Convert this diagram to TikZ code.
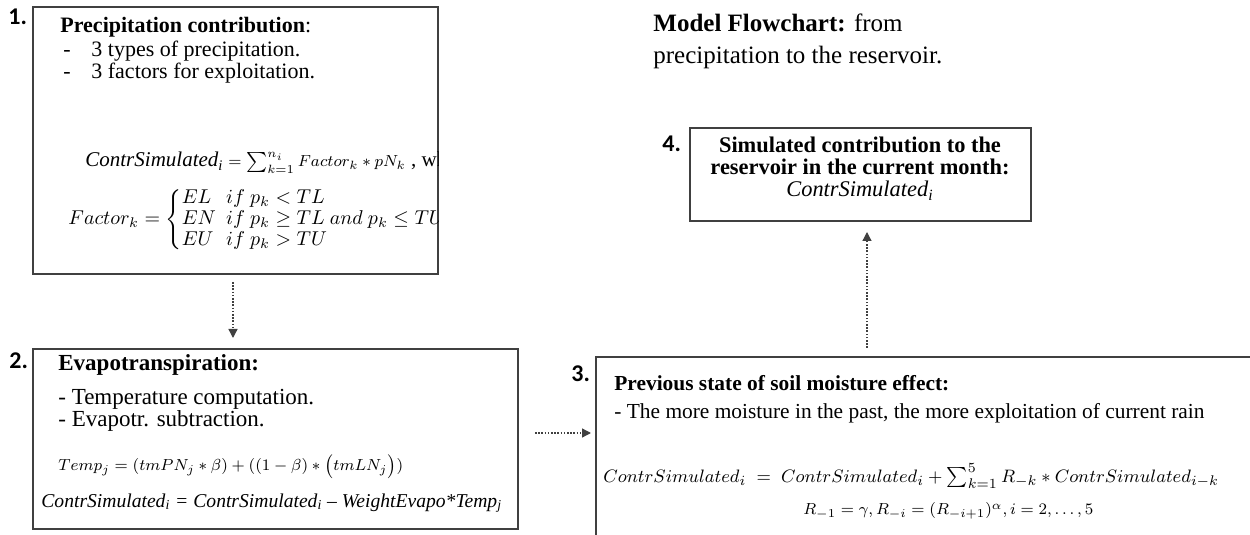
\documentclass[tikz,border=0pt]{standalone}
\usepackage{fontspec}
\setmainfont{Liberation Serif}
\newfontfamily\lblfont{Carlito}
\usetikzlibrary{arrows.meta,fit}
\begin{document}
\begin{tikzpicture}[x=0.5pt,y=-0.5pt,
  box/.style={draw=black!75, line width=0.75pt, inner sep=0pt},
  num/.style={font=\lblfont\bfseries\fontsize{12}{14}\selectfont, anchor=base west, inner sep=0pt},
  txt/.style={anchor=base west, inner sep=0pt, font=\fontsize{11}{13}\selectfont},
  txtb/.style={anchor=base west, inner sep=0pt, font=\fontsize{11.5}{13}\selectfont},
  txtc/.style={anchor=base west, inner sep=0pt, font=\fontsize{10.7}{13}\selectfont},
  ctr/.style={anchor=base, inner sep=0pt, font=\fontsize{11.2}{13}\selectfont},
  title/.style={anchor=base west, inner sep=0pt, font=\fontsize{12.5}{15}\selectfont},
  arr/.style={draw=black!75, line width=0.65pt, dash pattern=on 0.8pt off 0.8pt,
    -{Triangle[length=4.5pt,width=4.5pt]}}]
\useasboundingbox (0,0) rectangle (1250,535);
\clip (0,0) rectangle (1250,535);

% boxes
\node[box, fit={(33,7) (438,274)}] (b1) {};
\node[box, fit={(33,349) (518,529)}] (b2) {};
\node[box, fit={(596,357) (1262,547)}] (b3) {};
\node[box, fit={(690,128) (1031,221)}] (b4) {};

% numbers
\node[num] (n1) at (8,25) {1.};
\node[num] (n2) at (9,369) {2.};
\node[num] (n3) at (571,381) {3.};
\node[num] (n4) at (662,152) {4.};

% title
\node[title] (tt1) at (653,32) {\textbf{Model Flowchart:} from};
\node[title] (tt2) at (653,64) {precipitation to the reservoir.};

% box 1
\node[txt] (p1) at (60,33) {\textbf{Precipitation contribution}:};
\node[txt] (p2a) at (63,57) {-};
\node[txt] (p2) at (91,57) {3 types of precipitation.};
\node[txt] (p3a) at (63,79) {-};
\node[txt] (p3) at (91,79) {3 factors for exploitation.};
\begin{scope}
\clip (b1.south west) rectangle (b1.north east);
\node[txt, font=\fontsize{10.5}{12}\selectfont] (p4) at (85,167)
  {\textit{ContrSimulated}\textsubscript{\textit{i}}{\fontsize{8.4}{10}\selectfont$\;= \sum_{k=1}^{n_i} Factor_k * pN_k$} , where};
\node[anchor=west, inner sep=0pt, font=\fontsize{10.2}{10.5}\selectfont] (p5) at (68,220)
  {$Factor_k = \left\{\begin{array}{@{}l@{\hspace{0.5em}}l@{}}
     EL & if\ p_k < TL\\
     EN & if\ p_k \geq TL\ and\ p_k \leq TU\\
     EU & if\ p_k > TU
   \end{array}\right.$};
\end{scope}

% box 2
\node[txtb] (e1) at (58,371) {\textbf{Evapotranspiration:}};
\node[txtb] (e2) at (58,405) {- Temperature computation.};
\node[txtb] (e3) at (58,427) {- Evapotr. subtraction.};
\node[txt, font=\fontsize{8.1}{11}\selectfont] (e4) at (58,471)
  {$Temp_j = (tmPN_j * \beta) + ((1-\beta) * \big(tmLN_j\big))$};
\node[txt, font=\fontsize{9.8}{12}\selectfont] (e5) at (41,507)
  {\textit{ContrSimulated\textsubscript{i} = ContrSimulated\textsubscript{i} – WeightEvapo*Temp\textsubscript{j}}};

% box 3
\node[txtc] (s1) at (614,391) {\textbf{Previous state of soil moisture effect:}};
\node[txtc] (s2) at (614,418) {- The more moisture in the past, the more exploitation of current rain};
\node[txt, font=\fontsize{9.5}{12}\selectfont] (s3) at (603,482)
  {$ContrSimulated_i \;=\; ContrSimulated_i + \sum_{k=1}^{5} R_{-k} * ContrSimulated_{i-k}$};
\node[txt, font=\fontsize{8.5}{12}\selectfont] (s4) at (803,515)
  {$R_{-1} = \gamma, R_{-i} = (R_{-i+1})^{\alpha}, i = 2,\ldots,5$};

% box 4
\node[ctr] (r1) at (860,153) {\textbf{Simulated contribution to the}};
\node[ctr] (r2) at (860,175) {\textbf{reservoir in the current month:}};
\node[ctr] (r3) at (860,197) {\textit{ContrSimulated}\textsubscript{\textit{i}}};

% connectors
\coordinate (a12s) at (233,282);
\coordinate (a12e) at (233,338);
\coordinate (a23s) at (535,433);
\coordinate (a23e) at (591,433);
\coordinate (a34s) at (867,348);
\coordinate (a34e) at (867,232);
\draw[arr] (a12s) -- (a12e);
\draw[arr] (a23s) -- (a23e);
\draw[arr] (a34s) -- (a34e);
\end{tikzpicture}
\end{document}
